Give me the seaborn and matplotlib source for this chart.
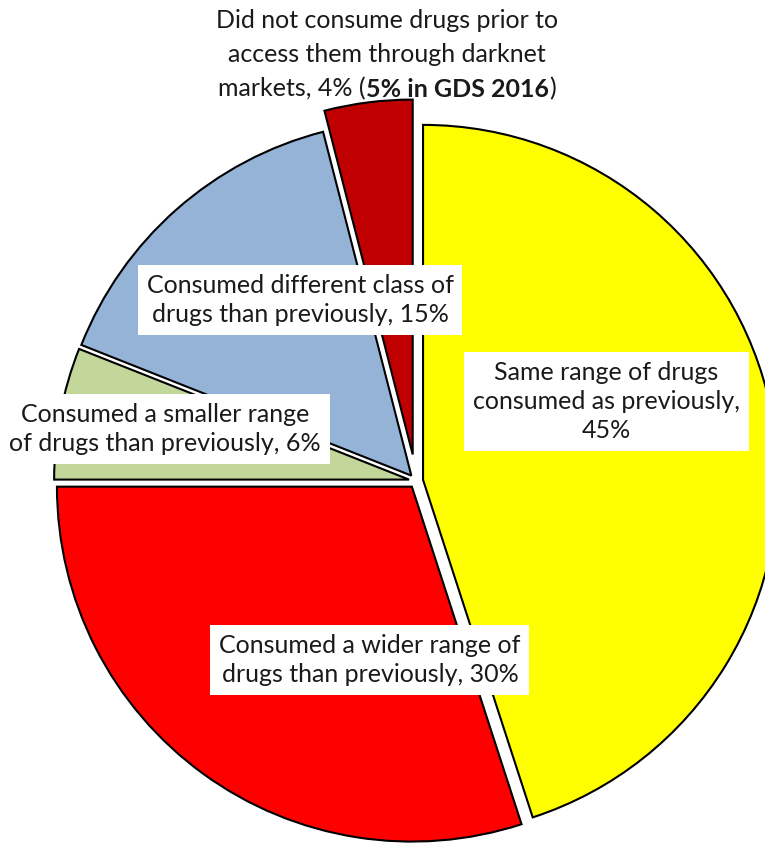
import matplotlib
matplotlib.use("Agg")
import matplotlib.pyplot as plt
import seaborn as sns
from matplotlib.offsetbox import TextArea, HPacker, VPacker, AnnotationBbox

# slice data (clockwise from 12 o'clock)
shares = [45, 30, 6, 15, 4]
colors = ["#FFFF00", "#FF0000", "#C4D79B", "#95B3D7", "#C00000"]
explode = [0.02, 0.02, 0.02, 0.02, 0.075]

box_labels = [
    "Same range of drugs\nconsumed as previously,\n45%",
    "Consumed a wider range of\ndrugs than previously, 30%",
    "Consumed a smaller range\nof drugs than previously, 6%",
    "Consumed different class of\ndrugs than previously, 15%",
]
# label centres in pie radius units (centre of pie = 0,0)
box_pos = [(0.536, 0.223), (-0.130, -0.504), (-0.707, 0.146), (-0.327, 0.510)]

top_lines = ["Did not consume drugs prior to", "access them through darknet"]
top_last = ["markets, 4% (", "5% in GDS 2016", ")"]

sns.set_theme(style="white")
plt.rcParams["font.family"] = ["Lato", "DejaVu Sans"]

fig = plt.figure(figsize=(7.65, 8.44), dpi=100)
ax = fig.add_axes([0, 0, 1, 1])
ax.pie(shares, colors=colors, explode=explode, startangle=90, counterclock=False,
       radius=1.0, wedgeprops=dict(edgecolor="black", linewidth=1.5))

ax.set_xlim(-1.172, 0.983)
ax.set_ylim(-1.023, 1.355)
ax.set_aspect("equal")
ax.axis("off")

fs = 18
for lab, (x, y) in zip(box_labels, box_pos):
    ax.text(x, y, lab, ha="center", va="center", fontsize=fs, color="#1a1a1a",
            linespacing=1.32,
            bbox=dict(boxstyle="square,pad=0.35", fc="white", ec="none"))

# top label with a bold part in the last line
rows = [TextArea(t, textprops=dict(fontsize=fs, color="#1a1a1a")) for t in top_lines]
last = HPacker(children=[
    TextArea(top_last[0], textprops=dict(fontsize=fs, color="#1a1a1a")),
    TextArea(top_last[1], textprops=dict(fontsize=fs, color="#1a1a1a", fontweight="bold")),
    TextArea(top_last[2], textprops=dict(fontsize=fs, color="#1a1a1a")),
], align="baseline", pad=0, sep=0)
block = VPacker(children=rows + [last], align="center", pad=0, sep=8)
ab = AnnotationBbox(block, (-0.082, 1.20), xycoords="data", frameon=False,
                    box_alignment=(0.5, 0.5))
ax.add_artist(ab)

fig.savefig("out.png", dpi=100)
